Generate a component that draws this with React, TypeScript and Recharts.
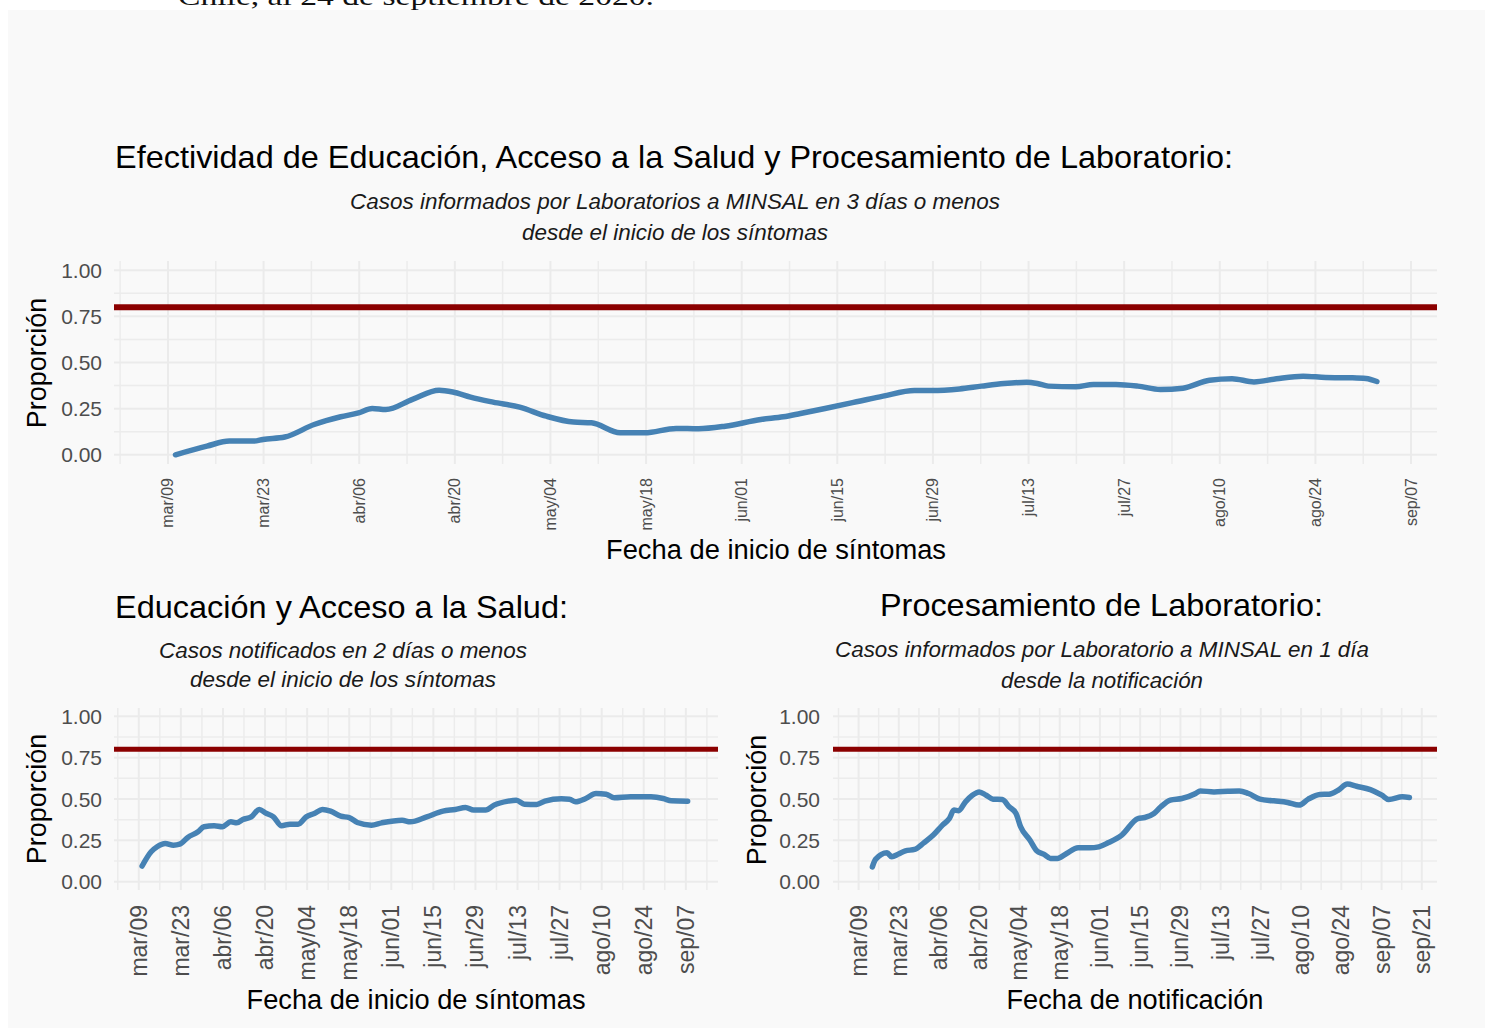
import React from "react";
import { LineChart, Line, XAxis, YAxis, ReferenceLine, CartesianGrid } from "recharts";

const FONT = "'Liberation Sans', Arial, Helvetica, sans-serif";

// Tick labels (every 14 days starting at mar/09 = day 0)
const labelsSintomas = ["mar/09", "mar/23", "abr/06", "abr/20", "may/04", "may/18", "jun/01", "jun/15", "jun/29", "jul/13", "jul/27", "ago/10", "ago/24", "sep/07"];
const labelsNotificacion = ["mar/09", "mar/23", "abr/06", "abr/20", "may/04", "may/18", "jun/01", "jun/15", "jun/29", "jul/13", "jul/27", "ago/10", "ago/24", "sep/07", "sep/21"];
const yTicks = [0, 0.25, 0.5, 0.75, 1];
const yMinor = [0.125, 0.375, 0.625, 0.875];
const meta = 0.8;

// Top chart: informed by labs in 3 days or less since symptom onset (days since mar/09)
const diasTotal = [1.1, 5.7, 9, 12.6, 13.9, 17.1, 21.4, 25.3, 27.9, 29.9, 31.9, 35.8, 39.7, 41.7, 44.3, 47.6, 51.5, 55.4, 59.4, 62, 66.2, 69.8, 74.4, 77.7, 81.6, 86.8, 90.1, 92.6, 96.2, 100.8, 104.7, 109.3, 111.9, 115.9, 119.1, 122.4, 125.7, 127.3, 128.9, 132.9, 135.5, 138.8, 142, 145.3, 148.6, 152.5, 155.8, 159, 162.3, 166.2, 169.5, 173.4, 175.4, 177];
const propTotal = [0.0, 0.047, 0.074, 0.074, 0.083, 0.096, 0.164, 0.206, 0.227, 0.251, 0.245, 0.3, 0.35, 0.34, 0.312, 0.285, 0.258, 0.209, 0.177, 0.173, 0.119, 0.119, 0.143, 0.141, 0.155, 0.191, 0.206, 0.224, 0.251, 0.287, 0.318, 0.348, 0.348, 0.357, 0.372, 0.386, 0.393, 0.386, 0.372, 0.368, 0.381, 0.381, 0.372, 0.354, 0.361, 0.404, 0.412, 0.395, 0.412, 0.426, 0.419, 0.417, 0.413, 0.397];

// Bottom-left: notified in 2 days or less since symptom onset
const diasEdu = [1.1, 4.1, 6.1, 8.8, 11.5, 13.6, 16.3, 19.7, 21.7, 25.1, 27.8, 30.6, 32.6, 34.6, 37.4, 40.1, 42.1, 44.8, 47.5, 50.3, 53, 55.7, 58.4, 61.1, 63.8, 67.2, 70, 72.7, 77.4, 80.8, 87.6, 90.3, 95.8, 101.2, 105.3, 108.7, 111.4, 115.4, 118.2, 122.9, 125.6, 128.3, 132.4, 135.1, 140.6, 143.3, 145.3, 148.7, 152.1, 155.5, 158.2, 163.6, 170.4, 174.5, 177.2, 182.6];
const propEdu = [0.095, 0.181, 0.211, 0.231, 0.221, 0.227, 0.268, 0.302, 0.332, 0.338, 0.332, 0.362, 0.356, 0.376, 0.392, 0.437, 0.416, 0.392, 0.338, 0.348, 0.348, 0.392, 0.412, 0.437, 0.427, 0.396, 0.388, 0.358, 0.342, 0.356, 0.372, 0.362, 0.392, 0.427, 0.437, 0.449, 0.433, 0.433, 0.463, 0.487, 0.493, 0.469, 0.467, 0.487, 0.501, 0.499, 0.483, 0.503, 0.533, 0.529, 0.507, 0.513, 0.513, 0.503, 0.489, 0.487];

// Bottom-right: informed by lab in 1 day since notification
const diasLab = [4.8, 5.9, 9.9, 11.5, 13.9, 16.3, 19.5, 22.7, 26, 29.2, 31.6, 33.2, 34.8, 37.2, 39.6, 42, 44.4, 46.8, 50, 52.4, 54.8, 56.4, 59.6, 62, 64.4, 66.8, 69.2, 72.4, 76.4, 80.4, 83.6, 86.8, 91.6, 97.2, 99.6, 102.8, 105.2, 108.5, 112.5, 117.3, 118.9, 123.7, 128.5, 132.5, 135.7, 139.7, 144.5, 149.3, 153.3, 156.5, 160.5, 163.7, 166.9, 170.1, 173.3, 178.1, 182.1, 184.5, 189.3, 191.7];
const propLab = [0.09, 0.135, 0.175, 0.151, 0.167, 0.187, 0.195, 0.235, 0.282, 0.342, 0.382, 0.433, 0.429, 0.483, 0.523, 0.543, 0.523, 0.499, 0.497, 0.453, 0.412, 0.332, 0.252, 0.187, 0.167, 0.141, 0.141, 0.171, 0.205, 0.205, 0.211, 0.235, 0.282, 0.382, 0.388, 0.412, 0.453, 0.493, 0.503, 0.533, 0.549, 0.543, 0.547, 0.549, 0.533, 0.499, 0.489, 0.479, 0.463, 0.499, 0.527, 0.529, 0.553, 0.59, 0.577, 0.557, 0.523, 0.497, 0.513, 0.509];

type PanelProps = {
  left: number;
  top: number;
  width: number;
  height: number;
  margin: { top: number; right: number; bottom: number; left: number };
  yAxisWidth: number;
  xAxisHeight: number;
  domain: [number, number];
  dias: number[];
  prop: number[];
  labels: string[];
  xFont: number;
  xTickMargin: number;
  yTickMargin: number;
  refWidth: number;
  lineWidth: number;
};

function Panel(p: PanelProps) {
  const data = p.dias.map((d, i) => ({ d, v: p.prop[i] }));
  const majorX = p.labels.map((_, i) => i * 14);
  const minorX: number[] = [];
  for (let w = -7; w <= p.domain[1]; w += 14) minorX.push(w);

  const XTick = (props: any) => {
    const { x, y, payload } = props;
    const idx = Math.round(payload.value / 14);
    return (
      <text
        x={x}
        y={y}
        transform={`rotate(-90 ${x} ${y})`}
        textAnchor="end"
        dominantBaseline="central"
        fontSize={p.xFont}
        fill="#4d4d4d"
        fontFamily={FONT}
      >
        {p.labels[idx]}
      </text>
    );
  };
  const YTick = (props: any) => {
    const { x, y, payload } = props;
    return (
      <text x={x} y={y} textAnchor="end" dominantBaseline="central" fontSize={21} fill="#4d4d4d" fontFamily={FONT}>
        {Number(payload.value).toFixed(2)}
      </text>
    );
  };

  return (
    <div style={{ position: "absolute", left: p.left, top: p.top }}>
      <LineChart width={p.width} height={p.height} data={data} margin={p.margin}>
        <CartesianGrid
          horizontalValues={yMinor}
          verticalValues={minorX}
          stroke="#ececec"
          strokeWidth={1.5}
        />
        <CartesianGrid
          horizontalValues={yTicks}
          verticalValues={majorX}
          stroke="#ebebeb"
          strokeWidth={2}
        />
        <XAxis
          type="number"
          dataKey="d"
          domain={p.domain}
          allowDataOverflow
          ticks={majorX}
          interval={0}
          axisLine={false}
          tickLine={false}
          tickSize={0}
          tickMargin={p.xTickMargin}
          height={p.xAxisHeight}
          tick={XTick}
        />
        <YAxis
          type="number"
          domain={[-0.05, 1.05]}
          allowDataOverflow
          ticks={yTicks}
          interval={0}
          axisLine={false}
          tickLine={false}
          tickSize={0}
          tickMargin={p.yTickMargin}
          width={p.yAxisWidth}
          tick={YTick}
        />
        <ReferenceLine y={meta} stroke="#8b0000" strokeWidth={p.refWidth} />
        <Line
          type="monotone"
          dataKey="v"
          stroke="#4682b4"
          strokeWidth={p.lineWidth}
          strokeLinecap="round"
          strokeLinejoin="round"
          dot={false}
          activeDot={false}
          isAnimationActive={false}
        />
      </LineChart>
    </div>
  );
}

const T = (props: { x: number; y: number; w: number; size: number; italic?: boolean; children: string; color?: string }) => (
  <text
    x={props.x - props.w / 2}
    y={props.y}
    fontSize={props.size}
    fontStyle={props.italic ? "italic" : "normal"}
    fill={props.color || "#000"}
    fontFamily={FONT}
    textLength={props.w}
    lengthAdjust="spacingAndGlyphs"
  >
    {props.children}
  </text>
);

const VT = (props: { cx: number; cy: number; children: string }) => (
  <text
    x={props.cx}
    y={props.cy}
    transform={`rotate(-90 ${props.cx} ${props.cy})`}
    textAnchor="middle"
    dominantBaseline="central"
    fontSize={27}
    fill="#000"
    fontFamily={FONT}
  >
    {props.children}
  </text>
);

export default function App() {
  return (
    <div style={{ position: "absolute", left: 0, top: 0, width: 1485, height: 1028, background: "#fff", overflow: "hidden" }}>
      <svg width={1485} height={20} style={{ position: "absolute", left: 0, top: 0 }}>
        <text x={178} y={5} fontSize={26} fontFamily="'Liberation Serif', 'DejaVu Serif', serif" fill="#111" textLength={476} lengthAdjust="spacingAndGlyphs">
          Chile, al 24 de septiembre de 2020.
        </text>
      </svg>
      <div style={{ position: "absolute", left: 8, top: 10, width: 1477, height: 1018, background: "#f9f9f9" }} />

      <Panel
        left={0}
        top={0}
        width={1485}
        height={600}
        margin={{ top: 261, right: 48, bottom: 0, left: 0 }}
        yAxisWidth={114}
        xAxisHeight={136}
        domain={[-7.9, 185.8]}
        dias={diasTotal}
        prop={propTotal}
        labels={labelsSintomas}
        xFont={16}
        xTickMargin={14}
        yTickMargin={12}
        refWidth={6}
        lineWidth={5.5}
      />
      <Panel
        left={0}
        top={600}
        width={740}
        height={428}
        margin={{ top: 108, right: 22, bottom: 0, left: 0 }}
        yAxisWidth={114}
        xAxisHeight={138}
        domain={[-8.25, 192.7]}
        dias={diasEdu}
        prop={propEdu}
        labels={labelsSintomas}
        xFont={23}
        xTickMargin={15}
        yTickMargin={12}
        refWidth={5}
        lineWidth={5.5}
      />
      <Panel
        left={740}
        top={600}
        width={745}
        height={428}
        margin={{ top: 108, right: 48, bottom: 0, left: 0 }}
        yAxisWidth={93}
        xAxisHeight={138}
        domain={[-8.9, 201.3]}
        dias={diasLab}
        prop={propLab}
        labels={labelsNotificacion}
        xFont={23}
        xTickMargin={15}
        yTickMargin={13}
        refWidth={5}
        lineWidth={5.5}
      />

      <svg width={1485} height={1028} style={{ position: "absolute", left: 0, top: 0, pointerEvents: "none" }}>
        <T x={115 + 559} y={168} w={1118} size={32}>Efectividad de Educación, Acceso a la Salud y Procesamiento de Laboratorio:</T>
        <T x={675} y={209} w={650} size={22} italic color="#1a1a1a">Casos informados por Laboratorios a MINSAL en 3 días o menos</T>
        <T x={675} y={240} w={306} size={22} italic color="#1a1a1a">desde el inicio de los síntomas</T>
        <T x={776} y={559} w={340} size={27}>Fecha de inicio de síntomas</T>
        <VT cx={37} cy={363}>Proporción</VT>

        <T x={115 + 226.5} y={618} w={453} size={32}>Educación y Acceso a la Salud:</T>
        <T x={343} y={658} w={368} size={22} italic color="#1a1a1a">Casos notificados en 2 días o menos</T>
        <T x={343} y={687} w={306} size={22} italic color="#1a1a1a">desde el inicio de los síntomas</T>
        <T x={416} y={1009} w={339} size={27}>Fecha de inicio de síntomas</T>
        <VT cx={37} cy={799}>Proporción</VT>

        <T x={880 + 221.5} y={616} w={443} size={32}>Procesamiento de Laboratorio:</T>
        <T x={1102} y={657} w={534} size={22} italic color="#1a1a1a">Casos informados por Laboratorio a MINSAL en 1 día</T>
        <T x={1102} y={688} w={202} size={22} italic color="#1a1a1a">desde la notificación</T>
        <T x={1135} y={1009} w={257} size={27}>Fecha de notificación</T>
        <VT cx={757} cy={800}>Proporción</VT>
      </svg>
    </div>
  );
}
